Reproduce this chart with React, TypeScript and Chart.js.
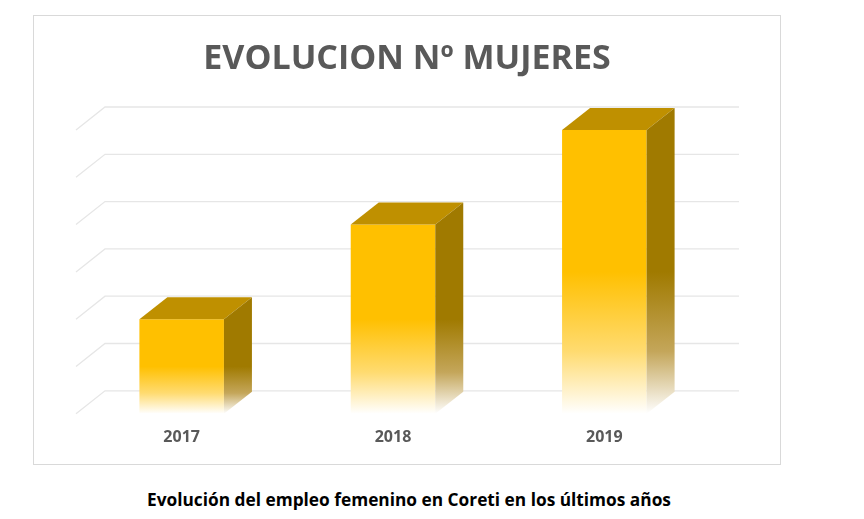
import React, { useEffect, useRef } from "react";
import { Chart, registerables } from "chart.js";

Chart.register(...registerables);

// ---- data ----
const categories: string[] = ["2017", "2018", "2019"];
const values: number[] = [2, 4, 6];
const yMin = 0;
const yMax = 6;
const yStep = 1;
const titleText = "EVOLUCION Nº MUJERES";
const captionText = "Evolución del empleo femenino en Coreti en los últimos años";

// ---- styles ----
const DX_WALL = 29;
const DY_WALL = -23;
const DX_BAR = 28;
const DY_BAR = -22;
const FRONT = "#FFC000";
const TOP = "#BF9000";
const SIDE = "#A07A00";
const GRID = "#e6e6e6";
const FONT = "'Open Sans', 'DejaVu Sans', sans-serif";

const threeD = {
  id: "threeD",
  beforeDatasetsDraw(chart: any) {
    const { ctx, chartArea, scales } = chart;
    const ys = scales.y;
    ctx.save();
    ctx.strokeStyle = GRID;
    ctx.lineWidth = 1.3;
    ys.ticks.forEach((t: any) => {
      const yf = ys.getPixelForValue(t.value);
      ctx.beginPath();
      ctx.moveTo(chartArea.left, yf);
      ctx.lineTo(chartArea.left + DX_WALL, yf + DY_WALL);
      ctx.lineTo(chartArea.right + DX_WALL, yf + DY_WALL);
      ctx.stroke();
    });
    ctx.restore();
  },
  afterDatasetsDraw(chart: any) {
    const { ctx } = chart;
    const meta = chart.getDatasetMeta(0);
    ctx.save();
    meta.data.forEach((bar: any) => {
      const { x, y, width, base } = bar.getProps(["x", "y", "width", "base"], true);
      const l = x - width / 2;
      const r = x + width / 2;
      // top face
      ctx.fillStyle = TOP;
      ctx.beginPath();
      ctx.moveTo(l, y);
      ctx.lineTo(r, y);
      ctx.lineTo(r + DX_BAR, y + DY_BAR);
      ctx.lineTo(l + DX_BAR, y + DY_BAR);
      ctx.closePath();
      ctx.fill();
      // right side face
      const g = ctx.createLinearGradient(0, y, 0, base);
      g.addColorStop(0, SIDE);
      g.addColorStop(0.5, SIDE);
      g.addColorStop(0.78, "#c4a65a");
      g.addColorStop(1, "rgba(255,255,255,1)");
      ctx.fillStyle = g;
      ctx.beginPath();
      ctx.moveTo(r, y);
      ctx.lineTo(r + DX_BAR, y + DY_BAR);
      ctx.lineTo(r + DX_BAR, base + DY_BAR);
      ctx.lineTo(r, base);
      ctx.closePath();
      ctx.fill();
    });
    ctx.restore();
  },
};

export default function App() {
  const ref = useRef<HTMLCanvasElement | null>(null);

  useEffect(() => {
    if (!ref.current) return;
    const chart = new Chart(ref.current, {
      type: "bar",
      data: {
        labels: categories,
        datasets: [
          {
            data: values,
            barPercentage: 0.4,
            categoryPercentage: 1,
            borderWidth: 0,
            backgroundColor: (c: any) => {
              const ch = c.chart;
              if (!ch.chartArea || c.dataIndex == null || c.raw == null) return FRONT;
              const ys = ch.scales.y;
              const top = ys.getPixelForValue(c.raw);
              const bottom = ys.getPixelForValue(yMin);
              const g = ch.ctx.createLinearGradient(0, top, 0, bottom);
              g.addColorStop(0, FRONT);
              g.addColorStop(0.5, FRONT);
              g.addColorStop(0.78, "#FFDB70");
              g.addColorStop(1, "#FFFFFF");
              return g;
            },
          },
        ],
      },
      options: {
        responsive: true,
        maintainAspectRatio: false,
        animation: false,
        layout: { padding: { left: 0, right: 0, top: 0, bottom: 3 } },
        plugins: {
          legend: { display: false },
          tooltip: { enabled: false },
          title: {
            display: true,
            text: titleText,
            color: "#595959",
            font: { family: FONT, size: 34, weight: "bold" },
            padding: { top: 22.6, bottom: 50.6 },
          },
        },
        scales: {
          x: {
            grid: { display: false, drawTicks: false },
            border: { display: false },
            ticks: {
              color: "#595959",
              font: { family: FONT, size: 16, weight: "bold" },
              padding: 14,
            },
          },
          y: {
            min: yMin,
            max: yMax,
            ticks: { display: false, stepSize: yStep },
            grid: { display: false, drawTicks: false },
            border: { display: false },
            afterFit: (s: any) => {
              s.width = 42;
            },
          },
          yR: {
            position: "right",
            ticks: { display: false },
            grid: { display: false, drawTicks: false },
            border: { display: false },
            afterFit: (s: any) => {
              s.width = 70;
            },
          },
        },
      },
      plugins: [threeD],
    });
    return () => chart.destroy();
  }, []);

  return (
    <div style={{ position: "absolute", left: 0, top: 0, width: 864, height: 519, background: "#fff" }}>
      <div
        style={{
          position: "absolute",
          left: 33,
          top: 15,
          width: 748,
          height: 450,
          boxSizing: "border-box",
          border: "1px solid #d9d9d9",
        }}
      >
        <div style={{ position: "relative", width: 746, height: 448 }}>
          <canvas ref={ref} />
        </div>
      </div>
      <div
        style={{
          position: "absolute",
          left: 33,
          width: 752,
          top: 489,
          lineHeight: "22px",
          textAlign: "center",
          fontFamily: FONT,
          fontWeight: "bold",
          fontSize: 17.3,
          color: "#000",
        }}
      >
        {captionText}
      </div>
    </div>
  );
}
